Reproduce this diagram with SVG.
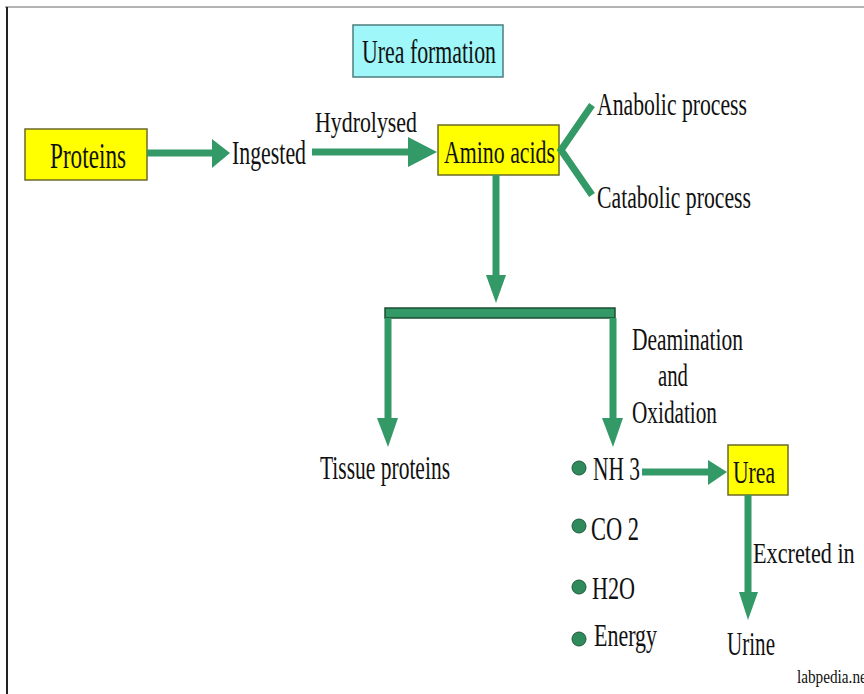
<svg xmlns="http://www.w3.org/2000/svg" width="864" height="694" viewBox="0 0 864 694" font-family="'Liberation Serif', 'Times New Roman', 'DejaVu Serif', serif">
<style>
text{font-family:'Liberation Serif','Times New Roman','DejaVu Serif',serif;fill:#111;}
.yb{fill:#ffff00;stroke:#6b6b2a;stroke-width:1.5;}
.cb{fill:#9ff7fa;stroke:#4d7d7d;stroke-width:1.5;}
.sh{stroke:#339966;stroke-width:7;fill:none;}
.hd{fill:#339966;}
.dot{fill:#2f8a5c;stroke:#1f5a3c;stroke-width:1;}
</style>
<rect x="0" y="0" width="864" height="694" fill="#ffffff"/>
<line x1="5" y1="7" x2="864" y2="7" stroke="#9a9a9a" stroke-width="1.5"/>
<line x1="7" y1="7" x2="7" y2="694" stroke="#222" stroke-width="2"/>

<g id="title">
<rect class="cb" x="353" y="25" width="150" height="52"/>
<text x="362" y="63" font-size="33" textLength="134" lengthAdjust="spacingAndGlyphs">Urea formation</text>
</g>
<g id="proteins">
<rect class="yb" x="25" y="129" width="122" height="51"/>
<text x="50" y="168" font-size="36" textLength="76" lengthAdjust="spacingAndGlyphs">Proteins</text>
</g>
<g id="ingested">
<text x="232" y="164" font-size="34" textLength="74" lengthAdjust="spacingAndGlyphs">Ingested</text>
</g>
<g id="amino">
<rect class="yb" x="438" y="125" width="121" height="50"/>
<text x="444" y="163" font-size="32" textLength="111" lengthAdjust="spacingAndGlyphs">Amino acids</text>
</g>
<g id="anabolic">
<text x="597" y="115" font-size="31" textLength="150" lengthAdjust="spacingAndGlyphs">Anabolic process</text>
</g>
<g id="catabolic">
<text x="597" y="208" font-size="31" textLength="154" lengthAdjust="spacingAndGlyphs">Catabolic process</text>
</g>
<g id="tissue">
<text x="320" y="479" font-size="33" textLength="130" lengthAdjust="spacingAndGlyphs">Tissue proteins</text>
</g>
<g id="nh3">
<circle class="dot" cx="579" cy="468" r="7"/>
<text x="593" y="480" font-size="33" textLength="47" lengthAdjust="spacingAndGlyphs">NH 3</text>
</g>
<g id="co2">
<circle class="dot" cx="579" cy="526" r="7"/>
<text x="591" y="540" font-size="33" textLength="48" lengthAdjust="spacingAndGlyphs">CO 2</text>
</g>
<g id="h2o">
<circle class="dot" cx="579" cy="587" r="7"/>
<text x="592" y="599" font-size="32" textLength="43" lengthAdjust="spacingAndGlyphs">H2O</text>
</g>
<g id="energy">
<circle class="dot" cx="579" cy="639" r="7"/>
<text x="594" y="646" font-size="31" textLength="63" lengthAdjust="spacingAndGlyphs">Energy</text>
</g>
<g id="urea">
<rect class="yb" x="728" y="445" width="60" height="50"/>
<text x="733" y="483" font-size="31" textLength="42" lengthAdjust="spacingAndGlyphs">Urea</text>
</g>
<g id="urine">
<text x="727" y="655" font-size="33" textLength="48" lengthAdjust="spacingAndGlyphs">Urine</text>
</g>
<g id="credit">
<text x="797" y="683" font-size="19" textLength="74" lengthAdjust="spacingAndGlyphs">labpedia.net</text>
</g>

<g id="connectors">
<line class="sh" x1="147" y1="153" x2="214" y2="153"/>
<polygon class="hd" points="212,139 230,153 212,168"/>
<line class="sh" x1="312" y1="152" x2="410" y2="152"/>
<polygon class="hd" points="408,137 437,152 408,167"/>
<text x="315" y="132" font-size="30" textLength="102" lengthAdjust="spacingAndGlyphs">Hydrolysed</text>
<polyline class="sh" points="592,105 561,150 592,195" stroke-linejoin="miter"/>
<line class="sh" x1="496" y1="175" x2="496" y2="277"/>
<polygon class="hd" points="486,275 506,275 496,303"/>
<rect x="385" y="308" width="230" height="10" fill="#339966" stroke="#1d4d33" stroke-width="1.5"/>
<line class="sh" x1="388" y1="318" x2="388" y2="420"/>
<polygon class="hd" points="377,418 398,418 388,447"/>
<line class="sh" x1="613" y1="318" x2="613" y2="420"/>
<polygon class="hd" points="602,418 623,418 613,447"/>
<text x="632" y="350" font-size="31" textLength="111" lengthAdjust="spacingAndGlyphs">Deamination</text>
<text x="658" y="386" font-size="31" textLength="30" lengthAdjust="spacingAndGlyphs">and</text>
<text x="632" y="423" font-size="31" textLength="85" lengthAdjust="spacingAndGlyphs">Oxidation</text>
<line class="sh" x1="642" y1="472" x2="710" y2="472"/>
<polygon class="hd" points="708,460 727,472 708,485"/>
<line class="sh" x1="748" y1="495" x2="748" y2="594"/>
<polygon class="hd" points="739,592 758,592 748,620"/>
<text transform="translate(753,563) scale(0.74,1)" font-size="30">Excreted in</text>
</g>
</svg>
